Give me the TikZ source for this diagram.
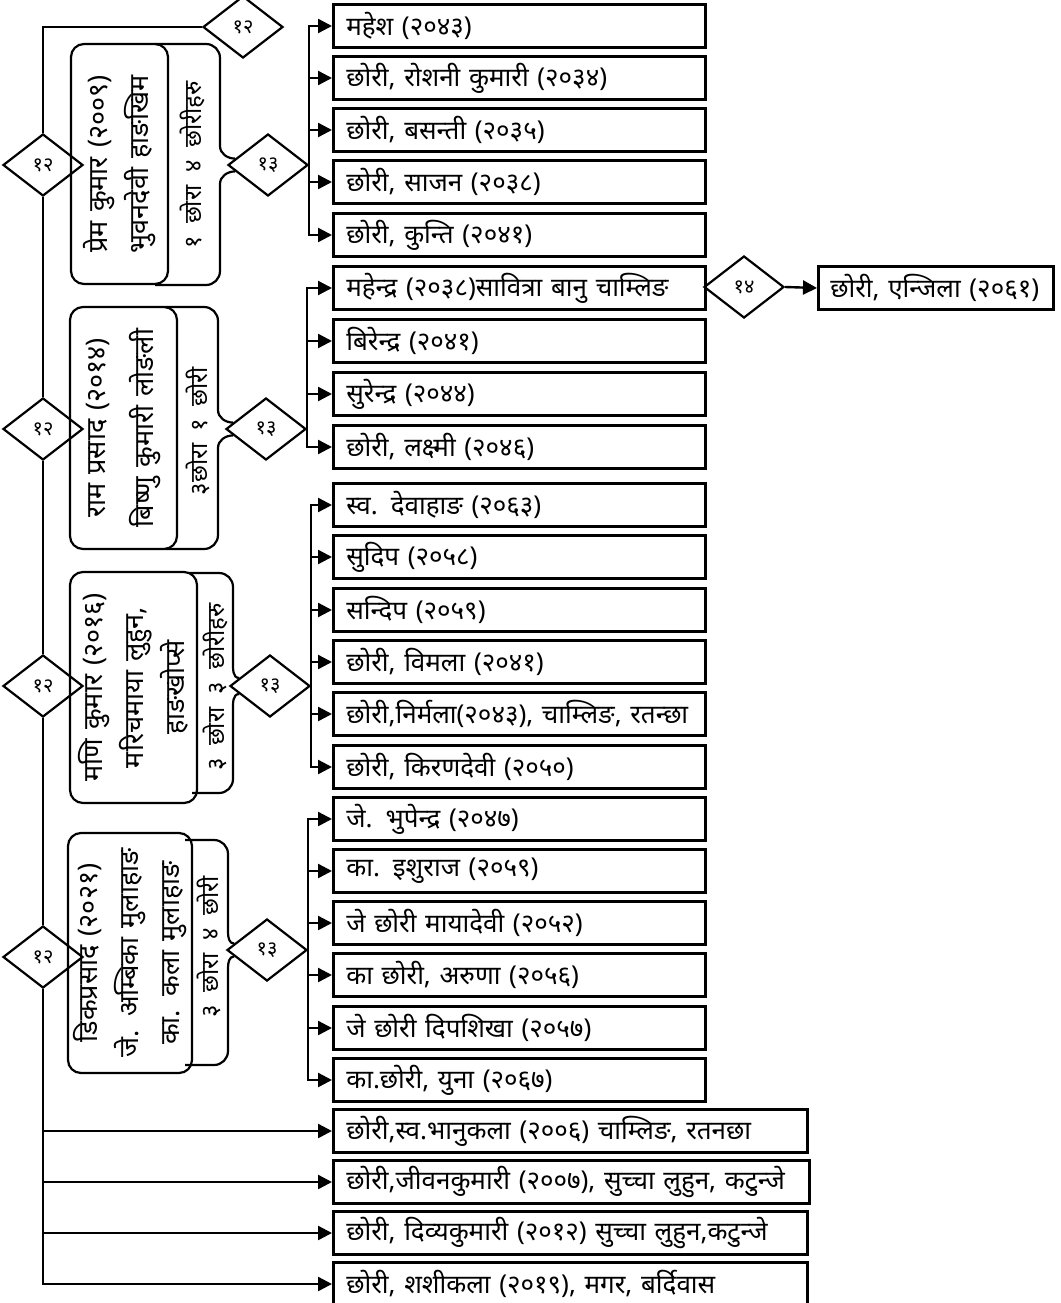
\documentclass[tikz,border=0pt]{standalone}
\usepackage{fontspec}
\setmainfont[Script=Devanagari,WordSpace=2.0]{Noto Sans}
\usetikzlibrary{shapes.geometric,arrows.meta,calc}

\begin{document}
\begin{tikzpicture}[x=1pt,y=-1pt]
\tikzset{kin/.style = {draw, line width=2.6pt, anchor=west, minimum height=43pt, inner xsep=13pt, inner ysep=0pt, text width=346pt, align=left, font=\fontsize{26}{28}\selectfont},
  gem/.style = {draw, diamond, line width=2.2pt, minimum width=80pt, minimum height=62pt, inner sep=0pt, font=\fontsize{20}{22}\selectfont},
  elder/.style = {draw, rounded corners=13pt, line width=2.2pt, rotate=90, text width=228pt, inner xsep=0pt, inner ysep=3pt, align=center, font=\fontsize{27}{41}\selectfont},
  tally/.style = {rotate=90, inner sep=0pt, font=\fontsize{24}{26}\selectfont},
  wire/.style = {line width=2.4pt},
  arr/.style = {wire, -{Triangle[length=14pt,width=14pt]}},
  rim/.style = {line width=2.2pt}}
\useasboundingbox (0,0) rectangle (1060,1303);

\node[gem] (g0) at (243,27) {१२};
\node[gem] (g1) at (43,165) {१२} ; \node[gem] (g2) at (43,429) {१२} ; \node[gem] (g3) at (43,686) {१२} ; \node[gem] (g4) at (43,957) {१२};

\node[elder, minimum width=240pt, minimum height=97pt] (pa1) at (119.5,164) {प्रेम कुमार (२००९)\\भुवनदेवी हाङखिम};
\node[elder, minimum width=242pt, minimum height=107pt] (pa2) at (123.5,428) {राम प्रसाद (२०१४)\\[7pt]बिष्णु कुमारी लोङली};
\node[elder, minimum width=231pt, minimum height=127pt] (pa3) at (133.5,687.5) {मणि कुमार (२०१६)\\मरिचमाया लुहुन,\\हाङखोप्से};
\node[elder, minimum width=240pt, minimum height=124pt] (pa4) at (130,953) {डिकप्रसाद (२०२१)\\जे. अम्बिका मुलाहाङ\\का. कला मुलाहाङ};

\node[gem] (m1) at (268,165) {१३} ; \node[gem] (m2) at (266,429) {१३} ; \node[gem] (m3) at (270,686) {१३} ; \node[gem] (m4) at (267,950) {१३};

\draw[rim] (155,44) -- (206,44) to[out=0,in=90] (220,58) -- (220,146) to[out=-90,in=180] ($(m1.west)!.2!(m1.north)$) ($(m1.west)!.2!(m1.south)$) to[out=180,in=90] (220,184) -- (220,271) to[out=-90,in=0] (206,285) -- (155,285);
\draw[rim] (165,307) -- (204,307) to[out=0,in=90] (218,321) -- (218,410) to[out=-90,in=180] ($(m2.west)!.2!(m2.north)$) ($(m2.west)!.2!(m2.south)$) to[out=180,in=90] (218,448) -- (218,535) to[out=-90,in=0] (204,549) -- (165,549);
\draw[rim] (190,573) -- (219,573) to[out=0,in=90] (233,587) -- (233,662) to[out=-90,in=180] ($(m3.west)!.25!(m3.north)$) ($(m3.west)!.25!(m3.south)$) to[out=180,in=90] (233,710) -- (233,779) to[out=-90,in=0] (219,793) -- (192,793);
\draw[rim] (185,840) -- (214,840) to[out=0,in=90] (228,854) -- (228,932) to[out=-90,in=180] ($(m4.west)!.2!(m4.north)$) ($(m4.west)!.2!(m4.south)$) to[out=180,in=90] (228,968) -- (228,1051) to[out=-90,in=0] (214,1065) -- (185,1065);

\node[tally] (ta1) at (192,165) {१ छोरा ४ छोरीहरु};
\node[tally] (ta2) at (198,431) {३छोरा १ छोरी};
\node[tally] (ta3) at (215,687) {३ छोरा ३ छोरीहरु};
\node[tally] (ta4) at (209,947) {३ छोरा ४ छोरी};

\node[kin] (c11) at (332,26) {महेश (२०४३)}; \node[kin] (c12) at (332,78) {छोरी, रोशनी कुमारी (२०३४)}; \node[kin] (c13) at (332,130) {छोरी, बसन्ती (२०३५)};
\node[kin] (c14) at (332,182) {छोरी, साजन (२०३८)}; \node[kin] (c15) at (332,235) {छोरी, कुन्ति (२०४१)};
\node[kin] (c21) at (332,288) {महेन्द्र (२०३८)सावित्रा बानु चाम्लिङ}; \node[kin] (c22) at (332,341) {बिरेन्द्र (२०४१)};
\node[kin] (c23) at (332,394) {सुरेन्द्र (२०४४)}; \node[kin] (c24) at (332,447) {छोरी, लक्ष्मी (२०४६)};
\node[kin] (c31) at (332,505) {स्व. देवाहाङ (२०६३)}; \node[kin] (c32) at (332,557) {सुदिप (२०५८)}; \node[kin] (c33) at (332,610) {सन्दिप (२०५९)};
\node[kin] (c34) at (332,662) {छोरी, विमला (२०४१)}; \node[kin] (c35) at (332,714) {छोरी,निर्मला(२०४३), चाम्लिङ, रतन्छा}; \node[kin] (c36) at (332,767) {छोरी, किरणदेवी (२०५०)};
\node[kin] (c41) at (332,819) {जे. भुपेन्द्र (२०४७)}; \node[kin] (c42) at (332,871) {का. इशुराज (२०५९)}; \node[kin] (c43) at (332,923) {जे छोरी मायादेवी (२०५२)};
\node[kin] (c44) at (332,975) {का छोरी, अरुणा (२०५६)}; \node[kin] (c45) at (332,1028) {जे छोरी दिपशिखा (२०५७)}; \node[kin] (c46) at (332,1080) {का.छोरी, युना (२०६७)};

\node[gem] (d14) at (744,287) {१४};
\node[kin, text width=211pt, inner xsep=12pt] (c211) at (817,288) {छोरी, एन्जिला (२०६१)};

\node[kin, text width=448pt] (b1) at (332,1131) {छोरी,स्व.भानुकला (२००६) चाम्लिङ, रतनछा};
\node[kin, text width=450pt] (b2) at (332,1182) {छोरी,जीवनकुमारी (२००७), सुच्चा लुहुन, कटुन्जे};
\node[kin, text width=448pt] (b3) at (332,1233) {छोरी, दिव्यकुमारी (२०१२) सुच्चा लुहुन,कटुन्जे};
\node[kin, text width=448pt] (b4) at (332,1284) {छोरी, शशीकला (२०१९), मगर, बर्दिवास};

\draw[wire] (g0.west) -| (g1.north); \draw[wire] (g1.south) -- (g2.north) (g2.south) -- (g3.north) (g3.south) -- (g4.north);
\draw[arr] (g4.south) |- (b4.west); \draw[arr] (g4.south |- b1.west) -- (b1.west); \draw[arr] (g4.south |- b2.west) -- (b2.west); \draw[arr] (g4.south |- b3.west) -- (b3.west);

\draw[arr] (m1.east) |- (c11.west); \draw[arr] (m1.east) |- (c12.west); \draw[arr] (m1.east) |- (c13.west); \draw[arr] (m1.east) |- (c14.west); \draw[arr] (m1.east) |- (c15.west);
\draw[arr] (m2.east) |- (c21.west); \draw[arr] (m2.east) |- (c22.west); \draw[arr] (m2.east) |- (c23.west); \draw[arr] (m2.east) |- (c24.west);
\draw[arr] (m3.east) |- (c31.west); \draw[arr] (m3.east) |- (c32.west); \draw[arr] (m3.east) |- (c33.west); \draw[arr] (m3.east) |- (c34.west); \draw[arr] (m3.east) |- (c35.west); \draw[arr] (m3.east) |- (c36.west);
\draw[arr] (m4.east) |- (c41.west); \draw[arr] (m4.east) |- (c42.west); \draw[arr] (m4.east) |- (c43.west); \draw[arr] (m4.east) |- (c44.west); \draw[arr] (m4.east) |- (c45.west); \draw[arr] (m4.east) |- (c46.west);
\draw[arr] (d14.east) -- (c211.west);
\end{tikzpicture}
\end{document}
